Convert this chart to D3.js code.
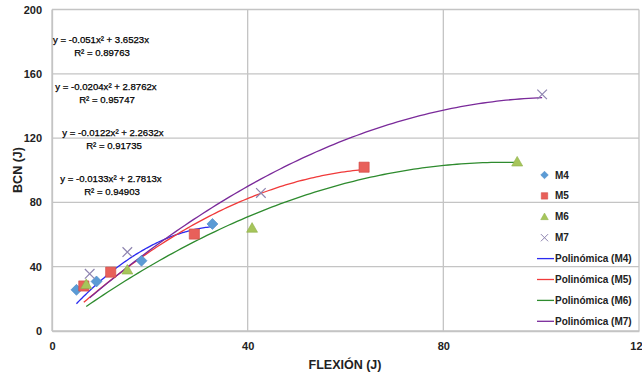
<!DOCTYPE html>
<html><head><meta charset="utf-8">
<script src="https://cdn.jsdelivr.net/npm/d3@7"></script>
<style>
body{margin:0;background:#fff;}
svg{display:block;}
</style></head>
<body><svg id="c" width="642" height="379"></svg>
<script>
const seriesNames = ["M4","M5","M6","M7"];
const xM4 = [5.0, 9.1, 18.3, 32.8];
const yM4 = [25.6, 30.8, 43.7, 66.6];
const xM5 = [6.5, 12.0, 29.1, 63.8];
const yM5 = [28.0, 36.6, 60.3, 101.9];
const xM6 = [7.0, 15.4, 40.9, 95.1];
const yM6 = [29.0, 38.0, 64.0, 105.2];
const xM7 = [7.7, 15.4, 42.7, 100.2];
const yM7 = [35.6, 49.1, 85.9, 147.2];
// trendline coefficients y = a x^2 + b x
const trendA = [-0.051, -0.0204, -0.0122, -0.0133];
const trendB = [3.6523, 2.8762, 2.2632, 2.7813];
const equations = ["y = -0.051x² + 3.6523x","y = -0.0204x² + 2.8762x","y = -0.0122x² + 2.2632x","y = -0.0133x² + 2.7813x"];
const r2Labels = ["R² = 0.89763","R² = 0.95747","R² = 0.91735","R² = 0.94903"];
const xTicks = [0, 40, 80, 120];
const yTicks = [0, 40, 80, 120, 160, 200];
const legendLabels = ["M4","M5","M6","M7","Polinómica (M4)","Polinómica (M5)","Polinómica (M6)","Polinómica (M7)"];

const xs = [xM4,xM5,xM6,xM7], ys = [yM4,yM5,yM6,yM7];
const markerFill = ["#5b9bd5","#e8605a","#a6c55a","#8e84b0"];
const markerStroke = ["#4a88c4","#d04a45","#8fb04a","#8e84b0"];
const lineColor = ["#2b2bf0","#f03a3a","#2e8b2e","#7a2a9a"];

function shapePath(i, r){
  if(i===0) return `M0,${-r}L${r},0L0,${r}L${-r},0Z`;
  if(i===1) return `M${-r*0.85},${-r*0.85}h${r*1.7}v${r*1.7}h${-r*1.7}Z`;
  if(i===2) return `M0,${-r}L${r},${r*0.75}L${-r},${r*0.75}Z`;
  return `M${-r*0.8},${-r*0.8}L${r*0.8},${r*0.8}M${-r*0.8},${r*0.8}L${r*0.8},${-r*0.8}`;
}

const svg = d3.select("#c");
const font = "'Liberation Sans Narrow','Liberation Sans',Arial,sans-serif";
const x = d3.scaleLinear().domain([0,120]).range([52,639]);
const y = d3.scaleLinear().domain([0,200]).range([331,9.5]);

// gridlines
const g = svg.append("g");
g.selectAll(".hg").data(yTicks).join("line")
  .attr("x1",x(0)).attr("x2",x(120)).attr("y1",d=>y(d)).attr("y2",d=>y(d))
  .attr("stroke","#c4c4c4").attr("stroke-width",1.3);
g.selectAll(".vg").data(xTicks).join("line")
  .attr("y1",y(0)).attr("y2",y(200)).attr("x1",d=>x(d)).attr("x2",d=>x(d))
  .attr("stroke","#c4c4c4").attr("stroke-width",1.3);

// axes
const xa = svg.append("g").attr("transform",`translate(0,${y(0)})`)
  .call(d3.axisBottom(x).tickValues(xTicks).tickSize(0).tickPadding(11));
const ya = svg.append("g").attr("transform",`translate(${x(0)},0)`)
  .call(d3.axisLeft(y).tickValues(yTicks).tickSize(0).tickPadding(10));
[xa,ya].forEach(a=>{
  a.select(".domain").attr("stroke","#c4c4c4").attr("stroke-width",1.3);
  a.selectAll("text").attr("font-family",font).attr("font-weight","bold").attr("font-size",11).attr("fill","#222");
});

// axis titles
svg.append("text").attr("x",345).attr("y",369).attr("text-anchor","middle")
  .attr("font-family",font).attr("font-weight","bold").attr("font-size",12.5).attr("fill","#222").text("FLEXIÓN (J)");
svg.append("text").attr("transform","translate(22,170) rotate(-90)").attr("text-anchor","middle")
  .attr("font-family",font).attr("font-weight","bold").attr("font-size",12.5).attr("fill","#222").text("BCN (J)");

// trendlines
const line = d3.line().x(d=>x(d[0])).y(d=>y(d[1]));
for(let i=0;i<4;i++){
  const lo = d3.min(xs[i]), hi = d3.max(xs[i]);
  const pts = d3.range(0,101).map(k=>{const t = lo + (hi-lo)*k/100; return [t, trendA[i]*t*t + trendB[i]*t];});
  svg.append("path").attr("d",line(pts)).attr("fill","none").attr("stroke",lineColor[i]).attr("stroke-width",1.3);
}

// markers
for(let i=0;i<4;i++){
  const pts = xs[i].map((v,k)=>[v, ys[i][k]]);
  svg.append("g").selectAll("path").data(pts).join("path")
    .attr("transform",d=>`translate(${x(d[0])},${y(d[1])})`)
    .attr("d", shapePath(i, i===0?5.5:(i===2?5.5:6)))
    .attr("fill", i===3?"none":markerFill[i])
    .attr("stroke", markerStroke[i]).attr("stroke-width", i===3?1.2:0.6);
}

// equation labels
const eqPos = [[101,40],[106,87],[113,133],[111,179]];
equations.forEach((e,i)=>{
  svg.append("text").attr("x",eqPos[i][0]).attr("y",eqPos[i][1]+3).attr("text-anchor","middle")
    .attr("font-family",font).attr("font-size",9.6).attr("fill","#000").attr("stroke","#000").attr("stroke-width",0.25).text(e);
  svg.append("text").attr("x",eqPos[i][0]+1).attr("y",eqPos[i][1]+16).attr("text-anchor","middle")
    .attr("font-family",font).attr("font-size",9.6).attr("fill","#000").attr("stroke","#000").attr("stroke-width",0.25).text(r2Labels[i]);
});

// legend
const legY0 = 175, legStep = 20.9;
legendLabels.forEach((lab,i)=>{
  const ly = legY0 + i*legStep;
  if(i<4){
    svg.append("path").attr("transform",`translate(544.5,${ly})`)
      .attr("d",shapePath(i, i===3?4.5:3.8))
      .attr("fill",i===3?"none":markerFill[i]).attr("stroke",markerStroke[i]).attr("stroke-width",i===3?1:0.5);
  } else {
    svg.append("line").attr("x1",537).attr("x2",554).attr("y1",ly).attr("y2",ly).attr("stroke",lineColor[i-4]).attr("stroke-width",1.3);
  }
  svg.append("text").attr("x",555).attr("y",ly+3.5).attr("font-family",font).attr("font-weight","bold")
    .attr("font-size",10).attr("fill","#222").text(lab);
});
</script></body></html>
